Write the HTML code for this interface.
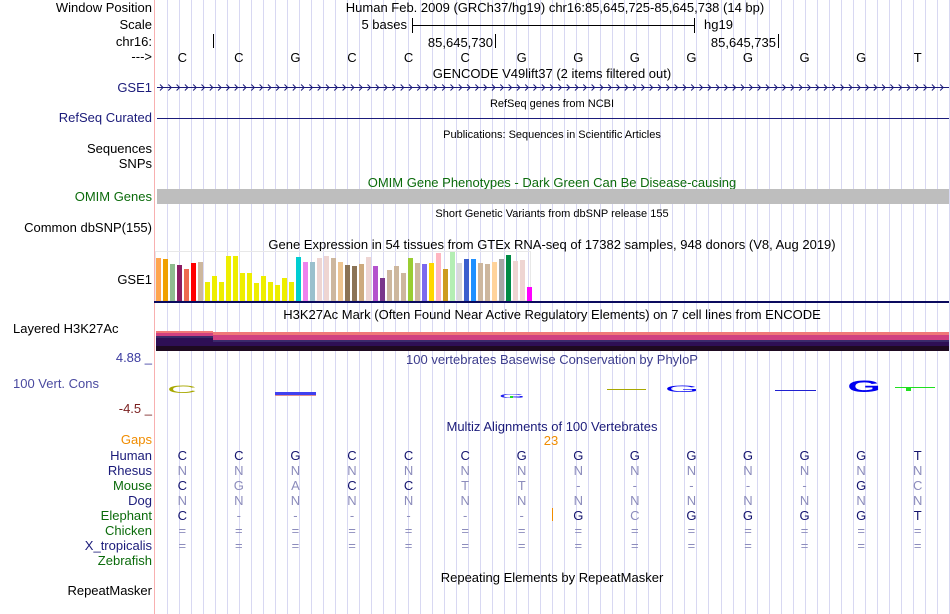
<!DOCTYPE html>
<html><head><meta charset="utf-8">
<style>
html,body{margin:0;padding:0;background:#fff;}
body{width:950px;height:614px;overflow:hidden;position:relative;font-family:"Liberation Sans",sans-serif;}
svg{position:absolute;left:0;top:0;}
text{font-family:"Liberation Sans",sans-serif;font-size:13px;}
.sm{font-size:11px;}
</style></head>
<body>
<svg id="g" width="950" height="614" viewBox="0 0 950 614">
<g id="grid"></g>
<line x1="154.5" y1="0" x2="154.5" y2="614" stroke="#f8b0b0" stroke-width="1"/>
<g id="labels" text-anchor="end">
<text x="152" y="12" fill="#000">Window Position</text>
<text x="152" y="29" fill="#000">Scale</text>
<text x="152" y="46" fill="#000">chr16:</text>
<text x="152" y="61" fill="#000">---&gt;</text>
<text x="152" y="92" fill="#1b1b7a">GSE1</text>
<text x="152" y="122" fill="#1b1b7a">RefSeq Curated</text>
<text x="152" y="153" fill="#000">Sequences</text>
<text x="152" y="168" fill="#000">SNPs</text>
<text x="152" y="201" fill="#0b6b0b">OMIM Genes</text>
<text x="152" y="232" fill="#000">Common dbSNP(155)</text>
<text x="152" y="284" fill="#000">GSE1</text>
<text x="13" y="333" text-anchor="start" fill="#000">Layered H3K27Ac</text>
<text x="152" y="362" fill="#3c3ca0">4.88 _</text>
<text x="13" y="388" text-anchor="start" fill="#4a4aa0">100 Vert. Cons</text>
<text x="152" y="413" fill="#7a1f1f">-4.5 _</text>
<text x="152" y="444" fill="#f08c00">Gaps</text>
<text x="152" y="460" fill="#1b1b7a">Human</text>
<text x="152" y="475" fill="#1b1b7a">Rhesus</text>
<text x="152" y="490" fill="#0b6b0b">Mouse</text>
<text x="152" y="505" fill="#1b1b7a">Dog</text>
<text x="152" y="520" fill="#0b6b0b">Elephant</text>
<text x="152" y="535" fill="#0b6b0b">Chicken</text>
<text x="152" y="550" fill="#1b1b7a">X_tropicalis</text>
<text x="152" y="565" fill="#0b6b0b">Zebrafish</text>
<text x="152" y="595" fill="#000">RepeatMasker</text>
</g>
<g text-anchor="middle">
<text x="555" y="12" fill="#000">Human Feb. 2009 (GRCh37/hg19)   chr16:85,645,725-85,645,738 (14 bp)</text>
<text x="552" y="78" fill="#000">GENCODE V49lift37 (2 items filtered out)</text>
<text x="552" y="107" class="sm" fill="#000">RefSeq genes from NCBI</text>
<text x="552" y="138" class="sm" fill="#000">Publications: Sequences in Scientific Articles</text>
<text x="552" y="187" fill="#0b6b0b">OMIM Gene Phenotypes - Dark Green Can Be Disease-causing</text>
<text x="552" y="217" class="sm" fill="#000">Short Genetic Variants from dbSNP release 155</text>
<text x="552" y="249" fill="#000">Gene Expression in 54 tissues from GTEx RNA-seq of 17382 samples, 948 donors (V8, Aug 2019)</text>
<text x="552" y="319" fill="#000">H3K27Ac Mark (Often Found Near Active Regulatory Elements) on 7 cell lines from ENCODE</text>
<text x="552" y="364" fill="#3c3c8c">100 vertebrates Basewise Conservation by PhyloP</text>
<text x="552" y="431" fill="#1b1b7a">Multiz Alignments of 100 Vertebrates</text>
<text x="552" y="582" fill="#000">Repeating Elements by RepeatMasker</text>
</g>
<g>
<text x="407" y="29" text-anchor="end" fill="#000">5 bases</text>
<line x1="412" y1="25.5" x2="694" y2="25.5" stroke="#000"/>
<line x1="412.5" y1="18" x2="412.5" y2="33" stroke="#000"/>
<line x1="694.5" y1="18" x2="694.5" y2="33" stroke="#000"/>
<text x="704" y="29" fill="#000">hg19</text>
</g>
<g>
<line x1="213.5" y1="34" x2="213.5" y2="48" stroke="#000"/>
<line x1="495.5" y1="34" x2="495.5" y2="48" stroke="#000"/>
<line x1="778.5" y1="34" x2="778.5" y2="48" stroke="#000"/>
<text x="493" y="47" text-anchor="end" fill="#000">85,645,730</text>
<text x="776" y="47" text-anchor="end" fill="#000">85,645,735</text>
</g>
<g id="bases" text-anchor="middle"></g>
<g id="gse1"></g>
<line x1="157" y1="118.5" x2="949" y2="118.5" stroke="#1b1b7a"/>
<rect x="157" y="189" width="792" height="15" fill="#bebebe"/>
<g id="gtex"></g>
<line x1="154" y1="302" x2="949" y2="302" stroke="#0a0a5e" stroke-width="2"/>
<g>
<rect x="156" y="331" width="57" height="2" fill="#f07878"/>
<rect x="156" y="333" width="57" height="3" fill="#d04080"/>
<rect x="156" y="336" width="57" height="2" fill="#3a2a6a"/>
<rect x="156" y="338" width="57" height="8" fill="#2e0f55"/>
<rect x="156" y="346" width="57" height="5" fill="#1e0a20"/>
<rect x="213" y="332" width="736" height="3" fill="#f07878"/>
<rect x="213" y="335" width="736" height="5" fill="#d04080"/>
<rect x="213" y="340" width="736" height="2" fill="#3a2a6a"/>
<rect x="213" y="342" width="736" height="4" fill="#2e0f55"/>
<rect x="213" y="346" width="736" height="5" fill="#1e0a20"/>
</g>
<g>
<text x="0" y="0" fill="#a8a800" text-anchor="middle" transform="translate(182,393) scale(3.2,0.85)">C</text>
<rect x="275" y="392" width="41" height="3" fill="#4040f0"/>
<rect x="275" y="395" width="41" height="1" fill="#e09090"/>
<text x="0" y="0" fill="#2020f0" text-anchor="middle" transform="translate(512,398) scale(2.6,0.45)">G</text>
<rect x="510" y="396" width="3" height="2" fill="#20e020"/>
<rect x="607" y="389" width="39" height="1" fill="#a8a800"/>
<text x="0" y="0" fill="#0000f0" text-anchor="middle" transform="translate(682,392) scale(3.4,0.7)">G</text>
<rect x="775" y="390" width="41" height="1" fill="#2020d0"/>
<text x="0" y="0" fill="#0000f0" text-anchor="middle" font-weight="bold" transform="translate(864,392) scale(3.3,1.3)">G</text>
<rect x="895" y="387" width="40" height="1" fill="#20e020"/>
<rect x="906" y="387" width="5" height="4" fill="#20e020"/>
</g>
<text x="551" y="445" text-anchor="middle" fill="#f08c00">23</text>
<line x1="552.5" y1="508" x2="552.5" y2="521" stroke="#f08c00"/>
<g id="maf" text-anchor="middle"></g>
</svg>
<script>
const ns="http://www.w3.org/2000/svg";
function mk(tag,attrs,parent){const e=document.createElementNS(ns,tag);for(const k in attrs)e.setAttribute(k,attrs[k]);parent.appendChild(e);return e;}
const grid=document.getElementById('grid');
for(let x=166.7;x<950;x+=12.04){
  const l=mk('line',{x1:Math.round(x)+0.5,y1:0,x2:Math.round(x)+0.5,y2:614,stroke:'#d8d8f2'},grid);
  
  
}
const baseW=56.57, baseX0=154;
const seq=["C","C","G","C","C","C","G","G","G","G","G","G","G","T"];
const bg=document.getElementById('bases');
seq.forEach((b,i)=>{const t=mk('text',{x:baseX0+baseW*(i+0.5),y:62,fill:'#000'},bg);t.textContent=b;
  
  });
const gg=document.getElementById('gse1');
mk('line',{x1:157,y1:87.5,x2:949,y2:87.5,stroke:'#1b1b7a'},gg);
for(let x=160;x<946;x+=8.3){mk('path',{d:`M${x.toFixed(1)},84.5 L${(x+3).toFixed(1)},87.5 L${x.toFixed(1)},90.5`,stroke:'#1b1b7a',fill:'none'},gg);}
const gtexValues=[43,42,37,36,32,38,39,19,25,19,45,45,28,28,18,25,19,16,23,19,44,39,39,43,45,43,39,36,35,37,44,35,23,31,35,28,43,38,37,38,48,32,49,38,42,42,38,37,39,42,46,40,41,14];
const gtexColors=["#ffa54f","#f0a000","#8fbc8f","#8b1c62","#ee6a50","#ff0000","#cdb79e","#eeee00","#eeee00","#eeee00","#eeee00","#eeee00","#eeee00","#eeee00","#eeee00","#eeee00","#eeee00","#eeee00","#eeee00","#eeee00","#00ced1","#ee82ee","#9ac0cd","#eed5d2","#eed5d2","#cdb79e","#eec591","#8b7355","#8b7355","#cdaa7d","#eed5d2","#b452cd","#7a378b","#cdb79e","#cdb79e","#cdb79e","#9acd32","#cdb79e","#7b68ee","#ffd700","#ffb6c1","#cd9b1d","#b4eeb4","#d9d9d9","#3a5fcd","#1e90ff","#cdb79e","#cdb79e","#ffd39b","#a6a6a6","#008b45","#eed5d2","#eed5d2","#ff00ff"];
const gt=document.getElementById('gtex');
const yBase=301, yScale=1.0;
function yG(v){return yBase-v*yScale;}
mk('rect',{x:155.5,y:251.5,width:375,height:49,fill:'none',stroke:'#e8e8e8'},gt);
gtexValues.forEach((v,i)=>{const r=mk('rect',{x:156+i*7,y:yG(v),width:5,height:yBase-yG(v),fill:gtexColors[i]},gt);
  
  });
const rows={
 human:["C","C","G","C","C","C","G","G","G","G","G","G","G","T"],
 rhesus:["N","N","N","N","N","N","N","N","N","N","N","N","N","N"],
 mouse:["C","G","A","C","C","T","T","-","-","-","-","-","G","C"],
 dog:["N","N","N","N","N","N","N","N","N","N","N","N","N","N"],
 elephant:["C","-","-","-","-","-","-","G","C","G","G","G","G","T"],
 chicken:["=","=","=","=","=","=","=","=","=","=","=","=","=","="],
 xtrop:["=","=","=","=","=","=","=","=","=","=","=","=","=","="]
};
const rowY={human:460,rhesus:475,mouse:490,dog:505,elephant:520,chicken:535,xtrop:550};
const mg=document.getElementById('maf');
for(const k in rows){rows[k].forEach((c,i)=>{
  const dark = k==='human' || c===rows.human[i];
  const t=mk('text',{x:baseX0+baseW*(i+0.5),y:rowY[k],fill:dark?'#14146e':'#8c8cbc'},mg);t.textContent=c;
  
  });}
</script>
</body></html>
